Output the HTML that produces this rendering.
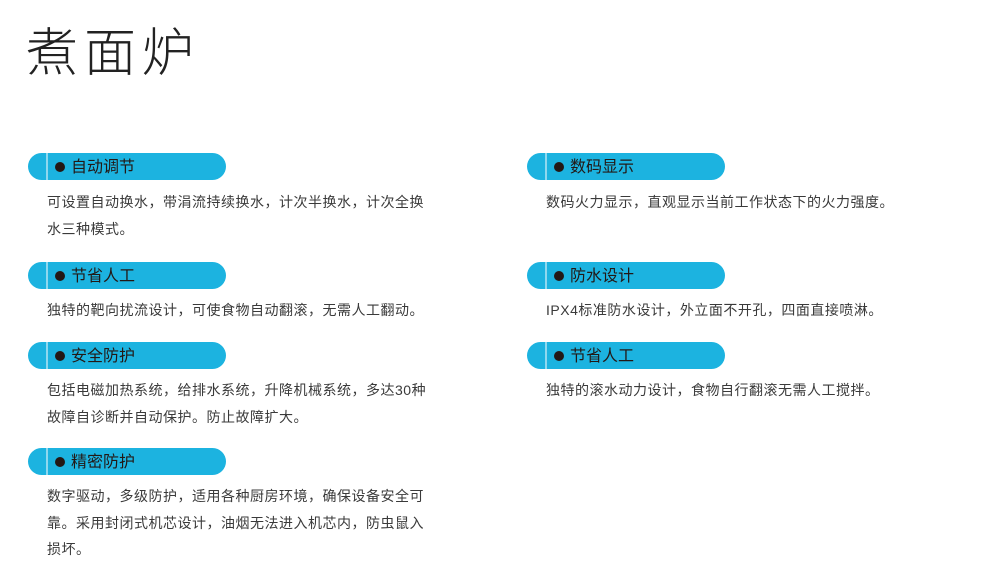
<!DOCTYPE html>
<html><head><meta charset="utf-8"><style>
body{margin:0;width:987px;height:574px;background:#fff;position:relative;overflow:hidden;font-family:"Liberation Sans","Noto Sans CJK SC",sans-serif;}
.t{position:absolute;left:26px;top:19px;font-size:52px;font-weight:300;color:#222;letter-spacing:6px;line-height:70px}
.p{position:absolute;width:198px;height:27px;border-radius:14px;background:#1cb3e0;}
.p:before{content:"";position:absolute;left:18px;top:0;width:2px;height:27px;background:#8fd8ef}
.p i{position:absolute;left:27px;top:9px;width:10px;height:10px;border-radius:50%;background:#231815}
.p span{position:absolute;left:43px;top:1px;line-height:27px;font-size:16px;color:#231815}
.b{position:absolute;font-size:14px;color:#3a3a3a;line-height:26.5px;width:420px;letter-spacing:0.5px;white-space:nowrap}
</style></head><body>
<div class="t">煮面炉</div>
<div class="p" style="left:28px;top:153px"><i></i><span>自动调节</span></div>
<div class="b" style="left:47px;top:189px">可设置自动换水，带涓流持续换水，计次半换水，计次全换<br>水三种模式。</div>
<div class="p" style="left:28px;top:262px"><i></i><span>节省人工</span></div>
<div class="b" style="left:47px;top:297px">独特的靶向扰流设计，可使食物自动翻滚，无需人工翻动。</div>
<div class="p" style="left:28px;top:342px"><i></i><span>安全防护</span></div>
<div class="b" style="left:47px;top:377px">包括电磁加热系统，给排水系统，升降机械系统，多达30种<br>故障自诊断并自动保护。防止故障扩大。</div>
<div class="p" style="left:28px;top:448px"><i></i><span>精密防护</span></div>
<div class="b" style="left:47px;top:483px">数字驱动，多级防护，适用各种厨房环境，确保设备安全可<br>靠。采用封闭式机芯设计，油烟无法进入机芯内，防虫鼠入<br>损坏。</div>
<div class="p" style="left:527px;top:153px"><i></i><span>数码显示</span></div>
<div class="b" style="left:546px;top:189px">数码火力显示，直观显示当前工作状态下的火力强度。</div>
<div class="p" style="left:527px;top:262px"><i></i><span>防水设计</span></div>
<div class="b" style="left:546px;top:297px">IPX4标准防水设计，外立面不开孔，四面直接喷淋。</div>
<div class="p" style="left:527px;top:342px"><i></i><span>节省人工</span></div>
<div class="b" style="left:546px;top:377px">独特的滚水动力设计，食物自行翻滚无需人工搅拌。</div>
</body></html>
